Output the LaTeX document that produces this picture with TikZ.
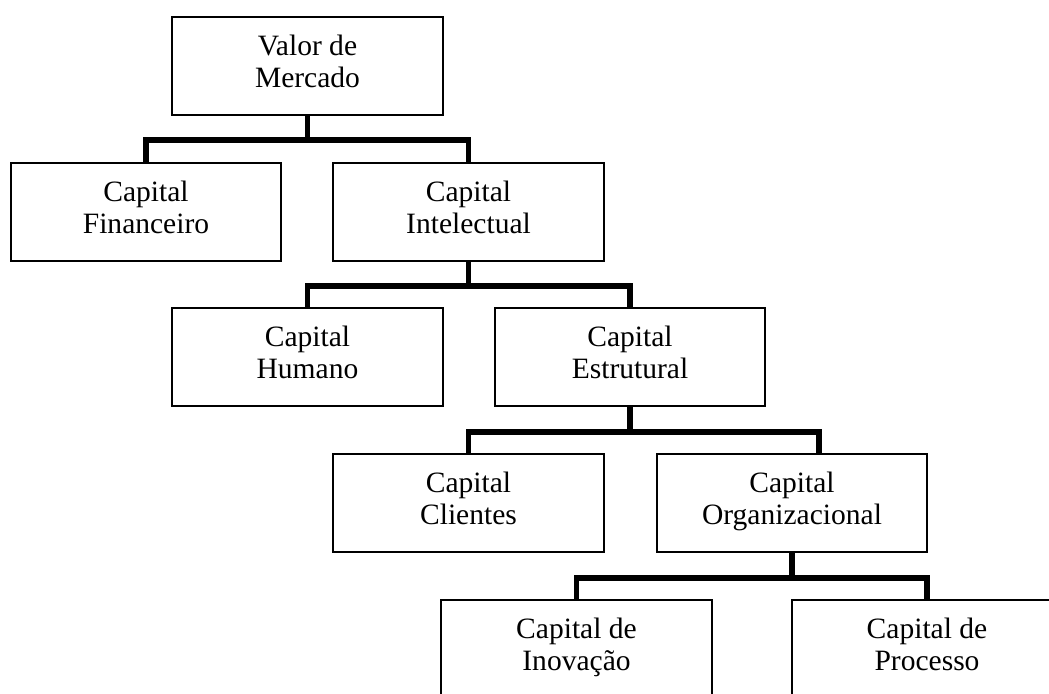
\documentclass[tikz,border=0pt]{standalone}
\usepackage{fontspec}
\setmainfont{Liberation Serif}
\usetikzlibrary{positioning,calc}

\begin{document}
\begin{tikzpicture}[
    x=0.025cm, y=-0.025cm,
    box/.style={rectangle, draw, line width=1.4pt, minimum width=6.75cm, minimum height=2.45cm, align=center, font=\fontsize{21}{23}\selectfont},
    conn/.style={line width=3.8pt, line join=miter}
]
    \useasboundingbox (0,0) rectangle (1049,693);
    \clip (0,0) rectangle (1049,693);

    \node[box] (val)   at (307.5,66)  {Valor de\\Mercado\strut};
    \node[box] (fin)   at (146,212)   {Capital\\Financeiro\strut};
    \node[box] (intel) at (468.5,212) {Capital\\Intelectual\strut};
    \node[box] (hum)   at (307.5,357) {Capital\\Humano\strut};
    \node[box] (est)   at (630,357)   {Capital\\Estrutural\strut};
    \node[box] (cli)   at (468.5,503) {Capital\\Clientes\strut};
    \node[box] (org)   at (792,503)   {Capital\\Organizacional\strut};
    \node[box] (inov)  at (576.5,649) {Capital de\\Inovação\strut};
    \node[box] (proc)  at (927,649)   {Capital de\\Processo\strut};

    \draw[conn] (val.south) -- ++(0,24) coordinate (b1);
    \draw[conn] (fin.north) |- (b1) -| (intel.north);

    \draw[conn] (intel.south) -- ++(0,24) coordinate (b2);
    \draw[conn] (hum.north) |- (b2) -| (est.north);

    \draw[conn] (est.south) -- ++(0,25) coordinate (b3);
    \draw[conn] (cli.north) |- (b3) -| ([xshift=0.675cm]org.north);

    \draw[conn] (org.south) -- ++(0,25) coordinate (b4);
    \draw[conn] (inov.north) |- (b4) -| (proc.north);
\end{tikzpicture}
\end{document}
